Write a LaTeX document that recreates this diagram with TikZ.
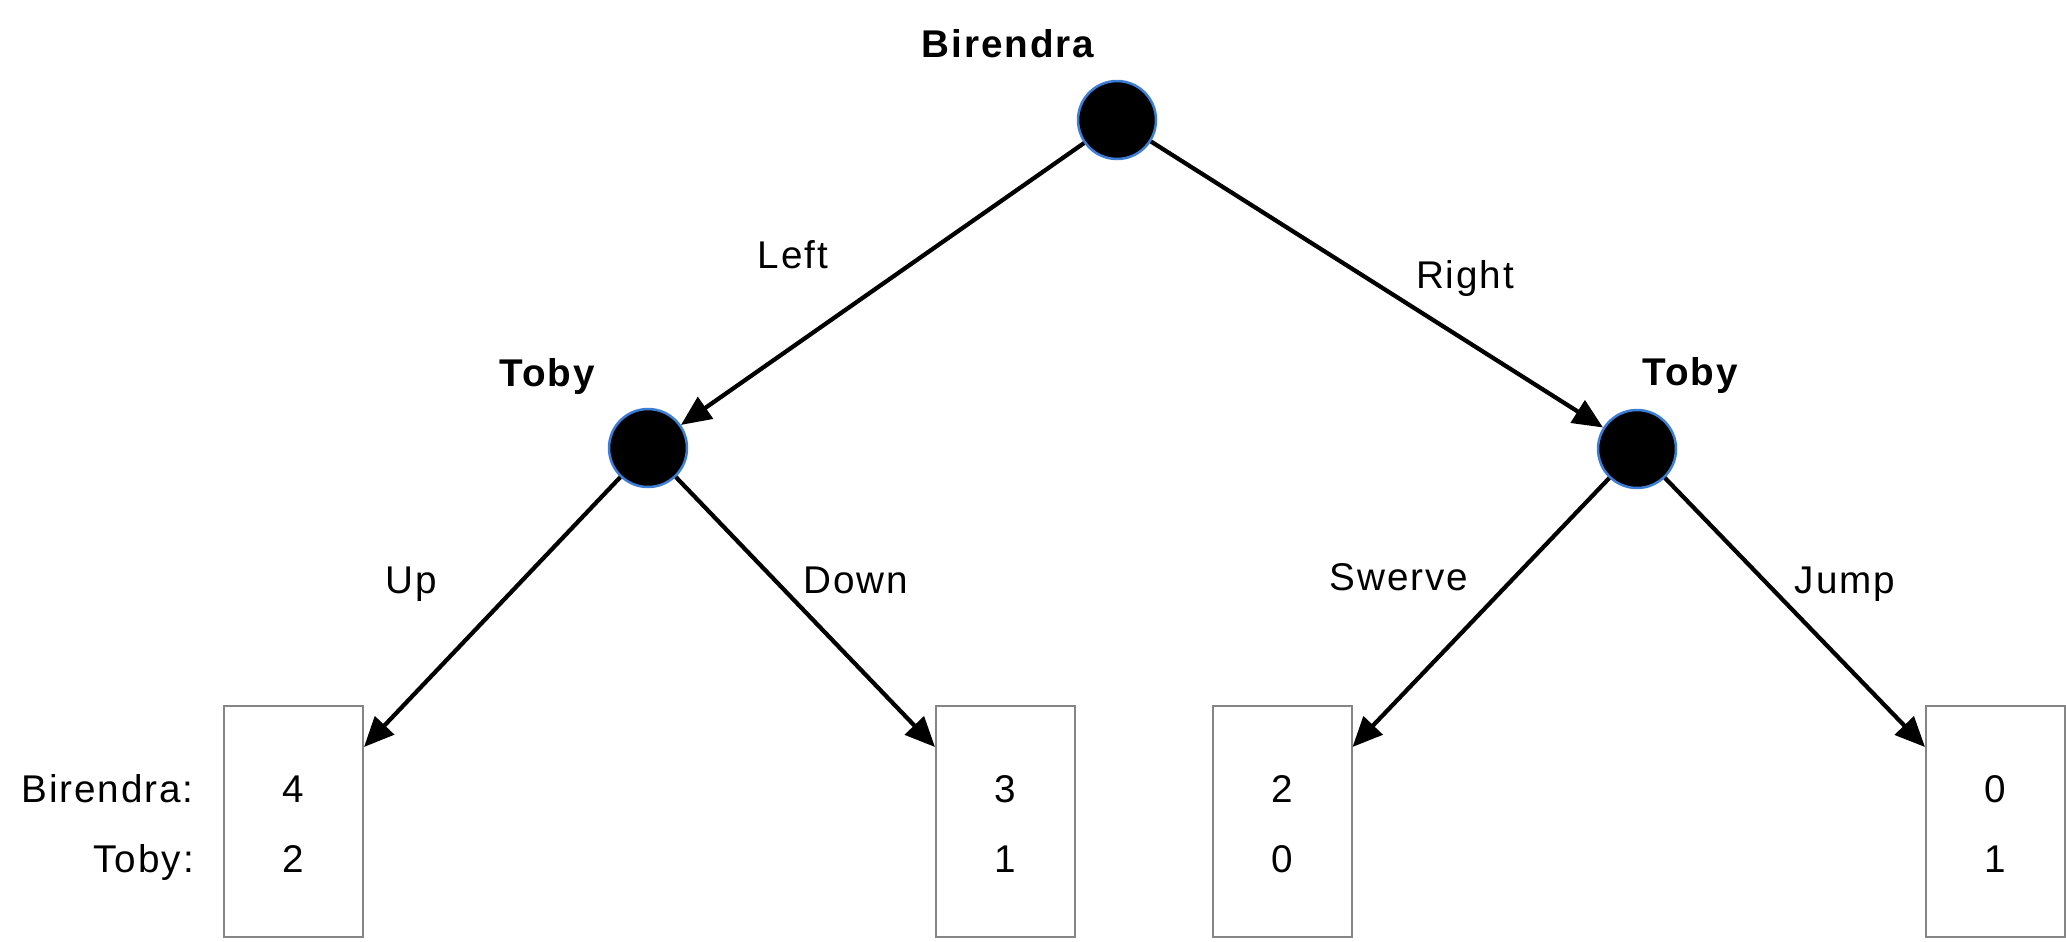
\documentclass[tikz,border=0pt]{standalone}
\usepackage{fontspec}
\setmainfont{Liberation Sans}[LetterSpace=5]
\usepackage{tikz}
\usetikzlibrary{calc,positioning,arrows.meta}
\definecolor{RingBlue}{HTML}{3C7DD6}
\definecolor{BoxGray}{HTML}{858585}

\begin{document}
\begin{tikzpicture}[x=0.02cm, y=-0.02cm,
    every node/.style={font=\fontsize{22}{26}\selectfont},
    player/.style={circle, fill=black, draw=RingBlue, line width=0.05cm, minimum size=1.56cm, inner sep=0pt},
    payoff/.style={rectangle, draw=BoxGray, line width=0.04cm, minimum width=2.78cm, minimum height=4.62cm, inner sep=0pt},
    move/.style={-{Triangle[length=0.6cm, width=0.52cm]}, line width=0.085cm},
    who/.style={anchor=base, font=\fontsize{22}{26}\selectfont\bfseries}]
    \useasboundingbox (0,0) rectangle (2066,941);

    % Noeuds de decision
    \node[player] (root) at (1117,120) {};
    \node[player] (tl) at (648,448) {};
    \node[player] (tr) at (1637,449) {};
    \node[who] at (1008,57) {Birendra};
    \node[who] at (547,386) {Toby};
    \node[who] at (1690,385) {Toby};

    % Boites des gains
    \node[payoff] (b1) at (293.5,821.5) {};
    \node[payoff] (b2) at (1005.5,821.5) {};
    \node[payoff] (b3) at (1282,821.5) {};
    \node[payoff] (b4) at (1995.5,821.5) {};
    \node[anchor=base east] at (200,802) {Birendra:};
    \node[anchor=base east] at (200,872) {Toby:};
    \foreach \b/\p/\q in {b1/4/2, b2/3/1, b3/2/0, b4/0/1} {
        \node[anchor=base] at ($(\b)+(0,-19.5)$) {\p};
        \node[anchor=base] at ($(\b)+(0,50.5)$) {\q};
    }

    % Fleches
    \draw[move] (root) -- (tl);
    \draw[move] (root) -- (tr);
    \draw[move] (tl) -- ($(b1.north east)+(0,42)$);
    \draw[move] (tl) -- ($(b2.north west)+(0,42)$);
    \draw[move] (tr) -- ($(b3.north east)+(0,42)$);
    \draw[move] (tr) -- ($(b4.north west)+(0,42)$);

    % Etiquettes des coups
    \node[anchor=base] at (793,268) {Left};
    \node[anchor=base] at (1465,288) {Right};
    \node[anchor=base] at (411,593) {Up};
    \node[anchor=base] at (856,593) {Down};
    \node[anchor=base] at (1399,590) {Swerve};
    \node[anchor=base] at (1845,593) {Jump};
\end{tikzpicture}
\end{document}
